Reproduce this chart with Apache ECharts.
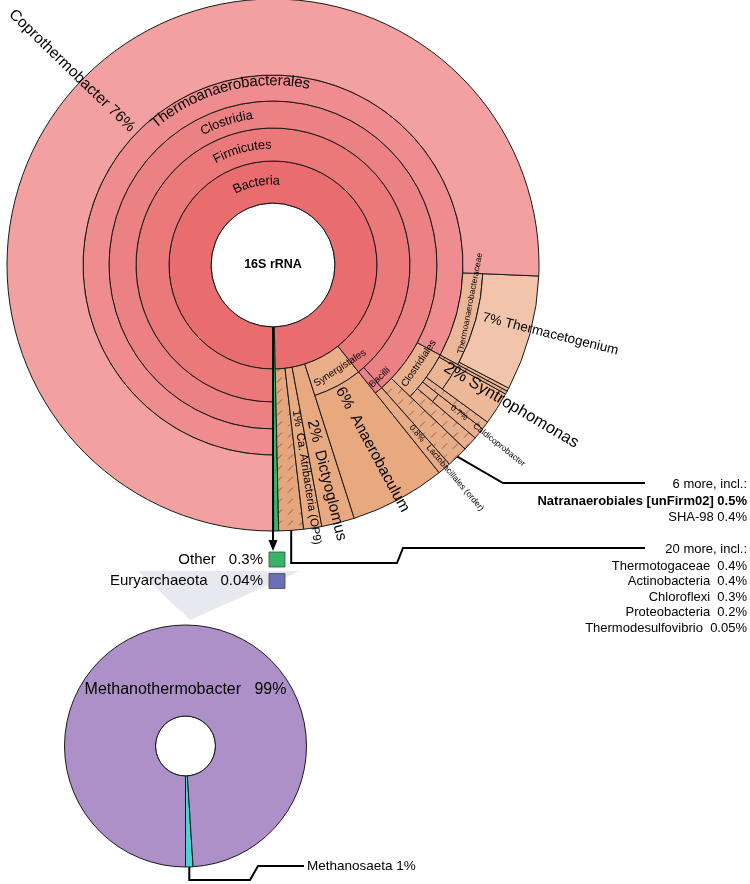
<!DOCTYPE html>
<html>
<head>
<meta charset="utf-8">
<title>16S rRNA Krona</title>
<script src="https://cdn.jsdelivr.net/npm/echarts@6.0.0/dist/echarts.min.js"></script>
<style>
html,body{margin:0;padding:0;background:#ffffff;}
#chart{width:750px;height:884px;}
</style>
</head>
<body>
<div id="chart"></div>
<script>
// ================= DATA (percent of all reads) =================
const nodeNames = ['16S rRNA','Euryarchaeota','Other','Bacteria',
  'Bacteria (20 more)','Ca. Atribacteria (OP9)','Dictyoglomus','Synergistales','Anaerobaculum',
  'Firmicutes','Bacilli','Lactobacillales (order)','Clostridia','Clostridia (6 more)',
  'Clostridiales','Clostridiales (more a)','Caldicoprobacteraceae','Caldicoprobacter',
  'Clostridiales (more b)','Syntrophomonadaceae','Syntrophomonas','Clostridiales (more c)',
  'Thermoanaerobacterales','Thermoanaerobacteraceae','Thermoanaerobacteraceae (more)',
  'Thermacetogenium','Coprothermobacter'];
const nodeParents = ['','16S rRNA','16S rRNA','16S rRNA',
  'Bacteria','Bacteria','Bacteria','Bacteria','Synergistales',
  'Bacteria','Firmicutes','Bacilli','Firmicutes','Clostridia',
  'Clostridia','Clostridiales','Clostridiales','Caldicoprobacteraceae',
  'Clostridiales','Clostridiales','Syntrophomonadaceae','Clostridiales',
  'Clostridia','Thermoanaerobacterales','Thermoanaerobacteraceae',
  'Thermoanaerobacteraceae','Thermoanaerobacterales'];
const nodeValues = [null,0.04,0.3,null,
  1.5,1.1,2.0,null,5.8,
  null,null,0.8,null,1.3,
  null,0.9,null,0.7,
  0.5,null,2.0,0.2,
  null,null,0.2,
  7.0,75.66];
const hatchedNodes = ['Bacteria (20 more)','Clostridia (6 more)','Clostridiales (more a)',
  'Clostridiales (more b)','Clostridiales (more c)','Thermoanaerobacteraceae (more)'];

const keyNames = ['Other','Euryarchaeota'];

const moreCounts = [6, 20];
const more6Names = ['Natranaerobiales [unFirm02]','SHA-98'];
const more6Values = [0.5, 0.4];
const more20Names = ['Thermotogaceae','Actinobacteria','Chloroflexi','Proteobacteria','Thermodesulfovibrio'];
const more20Values = [0.4, 0.4, 0.3, 0.2, 0.05];

const archNames = ['Euryarchaeota','Methanosaeta','Methanothermobacter'];
const archParents = ['','Euryarchaeota','Euryarchaeota'];
const archValues = [null, 1, 99];

// ================= STYLE / LAYOUT =================
const FONT = '"Liberation Sans", Arial, Helvetica, sans-serif';
const MAIN = {center:[273,265], ring:[0,62,104,137,164,190,210], outer:266};
const ARCH = {center:[185.5,746], ring:[0,30], outer:121};

const fills = {
  '16S rRNA':'#ffffff','Euryarchaeota':'#6b6fb5','Other':'#38b466','Bacteria':'#e96c6e',
  'Bacteria (20 more)':'#e6a67d','Ca. Atribacteria (OP9)':'#e8ab82','Dictyoglomus':'#e8a980',
  'Synergistales':'#eaaf88','Anaerobaculum':'#e8a97f','Firmicutes':'#eb797a','Bacilli':'#eb808b',
  'Lactobacillales (order)':'#e8ab85','Clostridia':'#ec8184','Clostridia (6 more)':'#e8ac87',
  'Clostridiales':'#eab18f','Clostridiales (more a)':'#e9ae8b','Caldicoprobacteraceae':'#eab18f',
  'Caldicoprobacter':'#eaaf8c','Clostridiales (more b)':'#e9ae8b','Syntrophomonadaceae':'#ebb594',
  'Syntrophomonas':'#edb898','Clostridiales (more c)':'#e9ae8b','Thermoanaerobacterales':'#ef8c8f',
  'Thermoanaerobacteraceae':'#ecb699','Thermacetogenium':'#f2c4ab',
  'Thermoanaerobacteraceae (more)':'#ecb699','Coprothermobacter':'#f3a1a0'
};
const archFills = {'Euryarchaeota':'#ffffff','Methanosaeta':'#4fd2d2','Methanothermobacter':'#ae90c8'};

// label layout (theta: degrees counter-clockwise from 6 o'clock; r: px)
const labelCfg = {
  '16S rRNA':{mode:'center', size:12.5, weight:'bold'},
  'Bacteria':{mode:'curved', theta:191.5, r:84, size:13},
  'Firmicutes':{mode:'curved', theta:195, r:120, size:13},
  'Clostridia':{mode:'curved', theta:198, r:151, size:13},
  'Thermoanaerobacterales':{mode:'curved', theta:194.5, r:184, size:15},
  'Coprothermobacter':{mode:'radial', theta:226, rs:195, size:15.5, pct:true, sep:' '},
  'Thermoanaerobacteraceae':{mode:'tangential', theta:79, r:201, size:8.5},
  'Thermacetogenium':{mode:'radial', theta:76, rs:216, size:13.5, pct:true, sep:' '},
  'Syntrophomonas':{mode:'radial', theta:59.5, rs:200, size:16.5, pct:true, sep:' '},
  'Caldicoprobacter':{mode:'radial', theta:51.5, rs:228, size:8.5, pct:true, sep:'    '},
  'Clostridiales':{mode:'tangential', theta:56, r:176, size:10},
  'Bacilli':{mode:'tangential', theta:43.5, r:155, size:9.5},
  'Lactobacillales (order)':{mode:'radial', theta:40.5, rs:212, size:8.5, pct:true, sep:'   '},
  'Anaerobaculum':{mode:'radial', theta:28.3, rs:140, size:15.5, pct:true, sep:'  '},
  'Synergistales':{mode:'tangential', theta:33, r:123, size:10},
  'Dictyoglomus':{mode:'radial', theta:14, rs:160, size:15.5, pct:true, sep:'  '},
  'Ca. Atribacteria (OP9)':{mode:'radial', theta:9, rs:147, size:11.5, pct:true, sep:'  '}
};
const archLabelCfg = {
  'Methanothermobacter':{mode:'tangential', theta:180, r:56, size:16, pct:true, sep:'   ', nameFirst:true}
};

// ================= HELPERS =================
const mctx = document.createElement('canvas').getContext('2d');
function measure(str, size, weight){ mctx.font = (weight||'normal')+' '+size+'px '+FONT; return mctx.measureText(str).width; }
function fmtPct(v){ return (v >= 1 ? Math.round(v) : +v.toFixed(2)) + '%'; }

function hatch(bg){
  const c = document.createElement('canvas'); c.width = 11; c.height = 11;
  const g = c.getContext('2d');
  g.fillStyle = bg; g.fillRect(0,0,11,11);
  g.strokeStyle = 'rgba(105,65,40,0.8)'; g.lineWidth = 0.9;
  g.beginPath(); g.moveTo(2,8.5); g.lineTo(7,3.5); g.stroke();
  return {image:c, repeat:'repeat'};
}
const hatchCache = {};
function mainFill(name){
  const col = fills[name] || '#dddddd';
  if (hatchedNodes.indexOf(name) >= 0) { return hatchCache[name] || (hatchCache[name] = hatch(col)); }
  return col;
}
function archFill(name){ return archFills[name] || '#cccccc'; }

function buildLayout(names, parents, values, geo){
  const idx = {}; names.forEach((n,i)=>{ idx[n]=i; });
  const kids = names.map(()=>[]);
  parents.forEach((p,i)=>{ if (p) kids[idx[p]].push(i); });
  const tot = [];
  const sum = i => (tot[i] = kids[i].length ? kids[i].reduce((s,c)=>s+sum(c),0) : values[i]);
  sum(0);
  const depth=[], st=[], en=[];
  const lay = (i,d,s0) => { depth[i]=d; st[i]=s0; en[i]=s0+tot[i]; let s=s0; kids[i].forEach(c=>{ lay(c,d+1,s); s+=tot[c]; }); };
  lay(0,0,0);
  const k = 100/tot[0];
  const data = names.map((n,i)=>[geo.ring[depth[i]], kids[i].length ? geo.ring[depth[i]+1] : geo.outer, st[i]*k, en[i]*k, i]);
  return {names, idx, kids, tot, depth, st, en, data, geo, k};
}

const LM = buildLayout(nodeNames, nodeParents, nodeValues, MAIN);
const LA = buildLayout(archNames, archParents, archValues, ARCH);

function textEl(x, y, rot, text, size, weight, align){
  return {type:'text', x:x, y:y, rotation:rot, z2:60, silent:true,
    style:{text:text, fill:'#000000', fontSize:size, fontFamily:FONT, fontWeight:weight||'normal',
      align:align||'center', verticalAlign:'middle'}};
}

function makeRender(L, fillOf, cfgs){
  return function(params, api){
    const i = api.value(4);
    const name = L.names[i];
    const cs = params.coordSys;
    const cx = cs.cx, cy = cs.cy;
    const R = L.geo.outer;
    const pt = (r, pct) => api.coord([r, pct]);
    const p0 = pt(R, 0), p25 = pt(R, 25);
    const base = Math.atan2(p0[1]-cy, p0[0]-cx);
    let d25 = Math.atan2(p25[1]-cy, p25[0]-cx) - base;
    while (d25 > Math.PI) d25 -= 2*Math.PI;
    while (d25 < -Math.PI) d25 += 2*Math.PI;
    const dir = d25 >= 0 ? 1 : -1;
    const ang = pct => base + dir*pct/100*2*Math.PI;
    const rad = r => { const p = pt(r, 0); return Math.hypot(p[0]-cx, p[1]-cy); };
    const unit = theta => { const p = pt(R, theta/3.6); const dx=p[0]-cx, dy=p[1]-cy; const l=Math.hypot(dx,dy); return [dx/l, dy/l]; };
    const a1 = ang(api.value(2)), a2 = ang(api.value(3));
    const els = [{
      type:'sector',
      shape:{cx:cx, cy:cy, r0:rad(api.value(0)), r:rad(api.value(1)),
        startAngle:Math.min(a1,a2), endAngle:Math.max(a1,a2), clockwise:true},
      style:{fill:fillOf(name), stroke:'#1a1a1a', lineWidth:1}
    }];
    const cfg = cfgs[name];
    if (cfg){
      const val = L.tot[i]*L.k;
      const theta = cfg.theta != null ? cfg.theta : (L.st[i]+L.en[i])/2*L.k*3.6;
      const size = cfg.size, weight = cfg.weight;
      if (cfg.mode === 'center'){
        els.push(textEl(cx, cy, 0, name, size, weight));
      } else if (cfg.mode === 'curved'){
        let W = 0; const ws = [];
        for (const ch of name){ const w = measure(ch, size, weight); ws.push(w); W += w; }
        let acc = 0, j = 0;
        for (const ch of name){
          const w = ws[j++];
          const th = theta + ((W/2) - (acc + w/2))/cfg.r*180/Math.PI;
          acc += w;
          const p = pt(cfg.r, th/3.6);
          const u = unit(th);
          const t = [-u[1], u[0]];
          els.push(textEl(p[0], p[1], -Math.atan2(t[1], t[0]), ch, size, weight));
        }
      } else if (cfg.mode === 'tangential'){
        const u = unit(theta);
        let t = [-u[1], u[0]];
        if (t[0] < -1e-6 || (Math.abs(t[0]) <= 1e-6 && t[1] > 0)) t = [-t[0], -t[1]];
        const p = pt(cfg.r, theta/3.6);
        let txt = name;
        if (cfg.pct) txt = cfg.nameFirst ? name + cfg.sep + fmtPct(val) : fmtPct(val) + cfg.sep + name;
        els.push(textEl(p[0], p[1], -Math.atan2(t[1], t[0]), txt, size, weight));
      } else if (cfg.mode === 'radial'){
        const u = unit(theta);
        const flip = u[0] < -1e-6;
        const d = flip ? [-u[0], -u[1]] : u;
        const p = pt(cfg.rs, theta/3.6);
        const pc = fmtPct(val);
        const txt = cfg.pct ? (flip ? name + cfg.sep + pc : pc + cfg.sep + name) : name;
        els.push(textEl(p[0], p[1], -Math.atan2(d[1], d[0]), txt, size, weight, flip ? 'right' : 'left'));
      }
    }
    return {type:'group', children:els};
  };
}

// ================= CHART =================
const chart = echarts.init(document.getElementById('chart'), null, {renderer:'canvas'});
const hiddenAxis = {show:false, axisLine:{show:false}, axisTick:{show:false}, axisLabel:{show:false}, splitLine:{show:false}, splitArea:{show:false}};
chart.setOption({
  animation:false,
  backgroundColor:'#ffffff',
  polar:[{center:MAIN.center, radius:MAIN.outer}, {center:ARCH.center, radius:ARCH.outer}],
  angleAxis:[
    Object.assign({polarIndex:0, type:'value', min:0, max:100, startAngle:270, clockwise:false}, hiddenAxis),
    Object.assign({polarIndex:1, type:'value', min:0, max:100, startAngle:270, clockwise:false}, hiddenAxis)
  ],
  radiusAxis:[
    Object.assign({polarIndex:0, type:'value', min:0, max:MAIN.outer}, hiddenAxis),
    Object.assign({polarIndex:1, type:'value', min:0, max:ARCH.outer}, hiddenAxis)
  ],
  series:[
    {type:'custom', coordinateSystem:'polar', polarIndex:0, silent:true, clip:false,
      encode:{radius:[0,1], angle:[2,3]}, data:LM.data, renderItem:makeRender(LM, mainFill, labelCfg)},
    {type:'custom', coordinateSystem:'polar', polarIndex:1, silent:true, clip:false,
      encode:{radius:[0,1], angle:[2,3]}, data:LA.data, renderItem:makeRender(LA, archFill, archLabelCfg)}
  ]
});

// ================= ANNOTATIONS =================
const px = (si, r, pct) => chart.convertToPixel({seriesIndex:si}, [r, pct]);
const midPct = (L, name) => { const i = L.idx[name]; return (L.st[i]+L.en[i])/2*L.k; };
const g = [];
const T = (x, y, text, size, align, weight) => ({type:'text', x:x, y:y, z:100, silent:true,
  style:{text:text, fill:'#000', fontSize:size, fontFamily:FONT, fontWeight:weight||'normal', align:align||'left', verticalAlign:'middle'}});
const PL = (pts) => ({type:'polyline', z:100, silent:true, shape:{points:pts}, style:{stroke:'#000', lineWidth:2, fill:null}});

// funnel from Euryarchaeota key to zoomed chart
g.push({type:'polygon', z:1, silent:true, shape:{points:[[138,571],[300,571],[190,620]]}, style:{fill:'#e8e8f1', stroke:null}});

// arrow from center to the key boxes
const holeBottom = px(0, MAIN.ring[1], 0);
const ax = Math.round(holeBottom[0]);
g.push({type:'line', z:100, silent:true, shape:{x1:ax, y1:holeBottom[1], x2:ax, y2:541}, style:{stroke:'#000', lineWidth:2}});
g.push({type:'polygon', z:100, silent:true, shape:{points:[[ax-4.5,540],[ax+4.5,540],[ax,551]]}, style:{fill:'#000'}});

// key boxes
const keyColors = {'Other':'#38b466','Euryarchaeota':'#6b6fb5'};
keyNames.forEach((n, k) => {
  const v = nodeValues[LM.idx[n]];
  const yTop = 552 + k*21.5;
  g.push({type:'rect', z:100, silent:true, shape:{x:269, y:yTop, width:16, height:15}, style:{fill:keyColors[n], stroke:'#444', lineWidth:0.8}});
  const pc = fmtPct(v);
  g.push(T(263, yTop+7.5, pc, 15, 'right'));
  g.push(T(263 - measure(pc, 15) - 13, yTop+7.5, n, 15, 'right'));
});

// "6 more" callout
const a6 = px(0, MAIN.outer, midPct(LM, 'Clostridia (6 more)'));
g.push(PL([a6, [503,483], [645,483]]));
g.push(T(747, 484, moreCounts[0] + ' more, incl.:', 13, 'right'));
more6Names.forEach((n, k) => {
  g.push(T(747, 501 + k*16, n + ' ' + fmtPct(more6Values[k]), 13, 'right', k === 0 ? 'bold' : 'normal'));
});

// "20 more" callout
const a20 = px(0, MAIN.outer, midPct(LM, 'Bacteria (20 more)'));
g.push(PL([a20, [a20[0], 563], [397,563], [403,548], [645,548]]));
g.push(T(747, 549, moreCounts[1] + ' more, incl.:', 13, 'right'));
more20Names.forEach((n, k) => {
  g.push(T(747, 566 + k*15.5, n + '  ' + fmtPct(more20Values[k]), 13, 'right'));
});

// Methanosaeta callout
const aM = px(1, ARCH.outer, midPct(LA, 'Methanosaeta'));
g.push(PL([aM, [aM[0], 880], [250,880], [258,866], [304,866]]));
g.push(T(307, 866, 'Methanosaeta ' + fmtPct(archValues[1]), 13.5, 'left'));

chart.setOption({graphic:{elements:g}});
</script>
</body>
</html>
